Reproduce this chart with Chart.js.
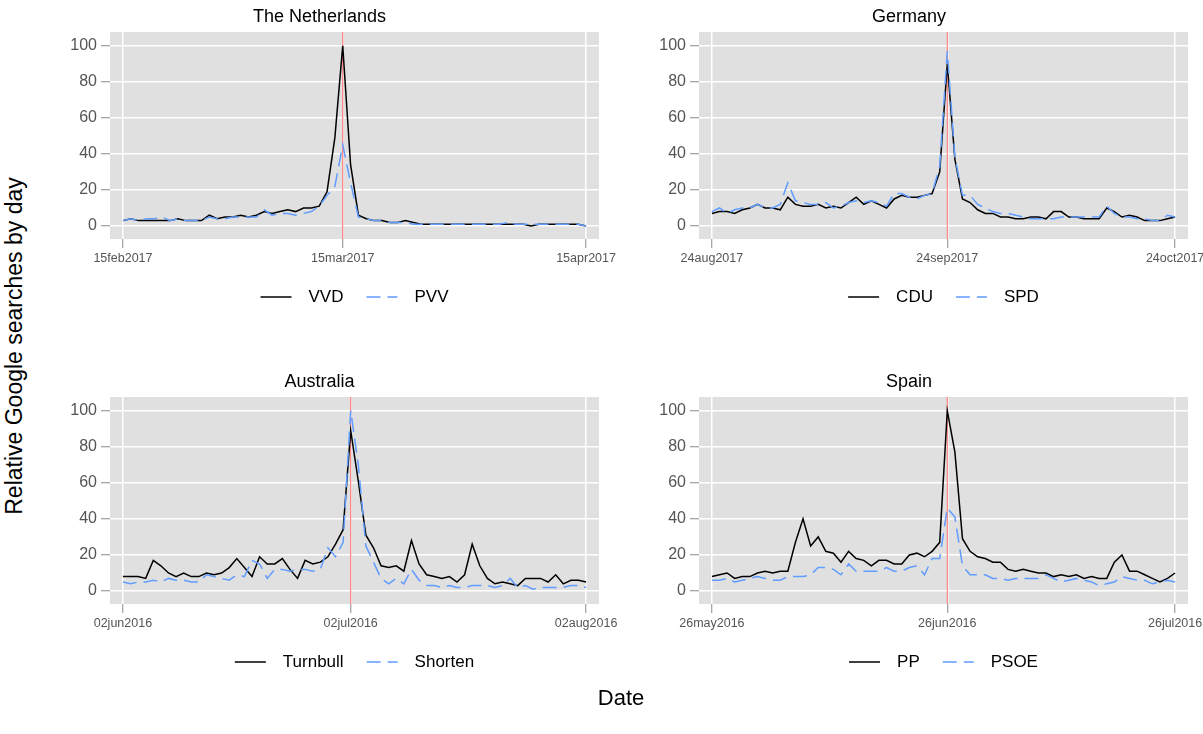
<!DOCTYPE html>
<html>
<head>
<meta charset="utf-8">
<script src="https://cdn.jsdelivr.net/npm/chart.js@4.4.0/dist/chart.umd.min.js"></script>
<style>
  html, body { margin: 0; padding: 0; background: #ffffff; }
  #page { position: relative; width: 1203px; height: 734px; overflow: hidden;
          font-family: "Liberation Sans", Arial, Helvetica, sans-serif; }
  .panel { position: absolute; }
  .panel canvas { display: block; }
  #ytitle { position: absolute; left: 14px; top: 346px; white-space: nowrap;
            transform: translate(-50%, -50%) rotate(-90deg); font-size: 23px; color: #000; }
  #xtitle { position: absolute; left: 621px; top: 698px; white-space: nowrap;
            transform: translate(-50%, -50%); font-size: 22px; color: #000; }
</style>
</head>
<body>
<div id="page">
  <div class="panel" style="left:40px;top:0px;"><canvas id="nl" width="582" height="330"></canvas></div>
  <div class="panel" style="left:630px;top:0px;"><canvas id="de" width="580" height="330"></canvas></div>
  <div class="panel" style="left:40px;top:365px;"><canvas id="au" width="582" height="330"></canvas></div>
  <div class="panel" style="left:630px;top:365px;"><canvas id="es" width="580" height="330"></canvas></div>
  <div id="ytitle">Relative Google searches by day</div>
  <div id="xtitle">Date</div>
</div>
<script>
// Daily relative search interest (Google Trends, 100 = peak), one value per day.

// The Netherlands, 15 Feb 2017 - 15 Apr 2017
const nlTitle = "The Netherlands";
const nlParties = ["VVD", "PVV"];
const nlVVD = [3,4,3,3,3,3,3,4,3,3,3,6,4,5,5,6,5,6,8,7,8,9,8,10,10,11,19,49,100,34,
               6,4,3,3,2,2,3,2,1,1,1,1,1,1,1,1,1,1,1,1,1,1,0,1,1,1,1,1,1,0];
const nlPVV = [3,4,3,4,4,5,3,4,3,3,3,5,4,4,5,5,5,5,9,6,7,7,6,7,8,11,17,22,45,24,
               5,4,3,3,2,2,2,1,1,1,1,1,1,1,1,1,1,1,1,2,1,1,1,1,1,1,1,1,1,0];
const nlTickDays = [0, 28, 59];
const nlTickLabels = ["15feb2017", "15mar2017", "15apr2017"];
const nlElectionDay = 28;

// Germany, 24 Aug 2017 - 24 Oct 2017
const deTitle = "Germany";
const deParties = ["CDU", "SPD"];
const deCDU = [7,8,8,7,9,10,12,10,10,9,16,12,11,11,12,10,11,10,13,16,12,14,12,10,15,17,16,16,17,18,
               30,90,37,15,13,9,7,7,5,5,4,4,5,5,4,8,8,5,5,4,4,4,10,8,5,6,5,3,3,3,4,5];
const deSPD = [8,10,7,9,10,10,12,10,10,12,24,14,13,12,12,13,10,11,13,14,13,14,13,11,18,18,16,15,17,18,
               33,97,38,17,17,12,10,8,7,7,6,5,4,4,4,4,5,5,5,5,5,5,11,7,5,5,4,4,3,3,6,5];
const deTickDays = [0, 31, 61];
const deTickLabels = ["24aug2017", "24sep2017", "24oct2017"];
const deElectionDay = 31;

// Australia, 02 Jun 2016 - 02 Aug 2016
const auTitle = "Australia";
const auParties = ["Turnbull", "Shorten"];
const auTurnbull = [8,8,8,7,17,14,10,8,10,8,8,10,9,10,13,18,13,8,19,15,15,18,12,7,17,15,16,19,26,34,
                    89,61,31,24,14,13,14,11,28,15,9,8,7,8,5,9,26,14,7,4,5,4,3,7,7,7,5,9,4,6,6,5];
const auShorten = [5,4,5,5,6,5,7,6,6,5,5,9,8,7,6,9,8,17,15,7,12,12,11,12,12,11,12,24,19,27,
                   100,70,25,16,7,4,7,4,12,6,3,3,2,3,2,2,3,3,3,2,3,7,2,3,1,2,2,2,2,3,3,2];
const auTickDays = [0, 30, 61];
const auTickLabels = ["02jun2016", "02jul2016", "02aug2016"];
const auElectionDay = 30;

// Spain, 26 May 2016 - 26 Jul 2016
const esTitle = "Spain";
const esParties = ["PP", "PSOE"];
const esPP = [8,9,10,7,8,8,10,11,10,11,11,27,40,25,30,22,21,16,22,18,17,14,17,17,15,15,20,21,19,22,
              27,100,77,29,22,19,18,16,16,12,11,12,11,10,10,8,9,8,9,7,8,7,7,16,20,11,11,9,7,5,7,10];
const esPSOE = [6,6,7,5,6,7,8,7,6,6,8,8,8,9,13,13,12,9,15,11,11,11,11,13,11,11,13,14,9,18,
                18,46,41,14,9,9,9,7,7,6,7,7,7,7,9,7,5,6,7,6,5,3,4,5,8,7,6,6,4,5,6,5];
const esTickDays = [0, 31, 61];
const esTickLabels = ["26may2016", "26jun2016", "26jul2016"];
const esElectionDay = 31;

const yTicks = [0, 20, 40, 60, 80, 100];

// ---- styling ----
const FONT = '"Liberation Sans", Arial, Helvetica, sans-serif';
const PANEL_BG = '#e0e0e0';
const GRID = '#ffffff';
const TICK_MARK = '#8a8a8a';
const TICK_TEXT = '#555555';
const BLACK = '#000000';
const BLUE = '#619cff';
const RED = '#ff6b6b';
const Y_MIN = -7.2, Y_MAX = 107.6;

Chart.defaults.font.family = FONT;
Chart.defaults.devicePixelRatio = 1;

// grey panel behind the data
const panelBackground = {
  id: 'panelBackground',
  beforeDraw(chart) {
    const { ctx, chartArea: a } = chart;
    ctx.save();
    ctx.fillStyle = PANEL_BG;
    ctx.fillRect(a.left, a.top, a.right - a.left, a.bottom - a.top);
    ctx.restore();
  }
};

// legend row under the panel: line key, label, next key
const keyLegend = {
  id: 'keyLegend',
  afterDraw(chart, args, opts) {
    const ctx = chart.ctx;
    const items = opts.order.map(i => chart.data.datasets[i]);
    ctx.save();
    ctx.font = opts.fontSize + 'px ' + FONT;
    const keyW = 31, gapText = 17, gapItem = 23;
    const widths = items.map(d => ctx.measureText(d.label).width);
    const total = items.reduce((s, d, i) => s + keyW + gapText + widths[i], 0) + gapItem * (items.length - 1);
    const a = chart.chartArea;
    let x = (a.left + a.right) / 2 - total / 2;
    const y = opts.y;
    items.forEach((d, i) => {
      ctx.strokeStyle = d.borderColor;
      ctx.lineWidth = d.borderWidth;
      ctx.setLineDash(d.borderDash || []);
      ctx.beginPath();
      ctx.moveTo(x, y);
      ctx.lineTo(x + keyW, y);
      ctx.stroke();
      ctx.setLineDash([]);
      x += keyW + gapText;
      ctx.fillStyle = BLACK;
      ctx.textBaseline = 'middle';
      ctx.textAlign = 'left';
      ctx.fillText(d.label, x, y);
      x += widths[i] + gapItem;
    });
    ctx.restore();
  }
};

function toPoints(values) {
  return values.map((v, i) => ({ x: i, y: v }));
}

function drawPanel(id, p) {
  new Chart(document.getElementById(id), {
    type: 'line',
    data: {
      datasets: [
        { label: p.parties[1], data: toPoints(p.second), borderColor: BLUE, borderWidth: 1.5,
          borderDash: [14, 7], pointRadius: 0, tension: 0, order: 0 },
        { label: p.parties[0], data: toPoints(p.first), borderColor: BLACK, borderWidth: 1.5,
          pointRadius: 0, tension: 0, order: 1 },
        { label: 'election', data: [{ x: p.event, y: Y_MIN }, { x: p.event, y: Y_MAX }],
          borderColor: RED, borderWidth: 1, pointRadius: 0, order: 2 }
      ]
    },
    options: {
      responsive: false,
      animation: false,
      events: [],
      layout: { padding: { top: 0, left: 0, right: p.padRight, bottom: 61 } },
      plugins: {
        legend: { display: false },
        tooltip: { enabled: false },
        title: {
          display: true, text: p.title, color: BLACK,
          font: { size: 18, weight: 'normal', family: FONT },
          padding: { top: 6, bottom: 4.4 }
        },
        keyLegend: { order: [1, 0], y: 297, fontSize: 17 }
      },
      scales: {
        x: {
          type: 'linear', min: p.xMin, max: p.xMax,
          afterBuildTicks(scale) { scale.ticks = p.tickDays.map(v => ({ value: v })); },
          afterFit(scale) { scale.height = 30; },
          ticks: {
            autoSkip: false, maxRotation: 0, color: TICK_TEXT, padding: 3,
            font: { size: 12.5, family: FONT },
            callback(value) { const k = p.tickDays.indexOf(value); return k >= 0 ? p.tickLabels[k] : ''; }
          },
          grid: { color: GRID, lineWidth: 1.5, tickLength: 9, tickColor: TICK_MARK, tickWidth: 1 },
          border: { display: false }
        },
        y: {
          type: 'linear', min: Y_MIN, max: Y_MAX,
          afterBuildTicks(scale) { scale.ticks = yTicks.map(v => ({ value: v })); },
          afterFit(scale) { scale.width = p.axisW; },
          ticks: { color: TICK_TEXT, padding: 4, font: { size: 16, family: FONT } },
          grid: { color: GRID, lineWidth: 1.5, tickLength: 9, tickColor: TICK_MARK, tickWidth: 1 },
          border: { display: false }
        }
      }
    },
    plugins: [panelBackground, keyLegend]
  });
}

drawPanel('nl', { title: nlTitle, parties: nlParties, first: nlVVD, second: nlPVV,
  tickDays: nlTickDays, tickLabels: nlTickLabels, event: nlElectionDay,
  xMin: -1.65, xMax: 60.65, axisW: 70, padRight: 23 });
drawPanel('de', { title: deTitle, parties: deParties, first: deCDU, second: deSPD,
  tickDays: deTickDays, tickLabels: deTickLabels, event: deElectionDay,
  xMin: -1.7, xMax: 62.7, axisW: 69, padRight: 22 });
drawPanel('au', { title: auTitle, parties: auParties, first: auTurnbull, second: auShorten,
  tickDays: auTickDays, tickLabels: auTickLabels, event: auElectionDay,
  xMin: -1.7, xMax: 62.7, axisW: 70, padRight: 23 });
drawPanel('es', { title: esTitle, parties: esParties, first: esPP, second: esPSOE,
  tickDays: esTickDays, tickLabels: esTickLabels, event: esElectionDay,
  xMin: -1.7, xMax: 62.7, axisW: 69, padRight: 22 });
</script>
</body>
</html>
